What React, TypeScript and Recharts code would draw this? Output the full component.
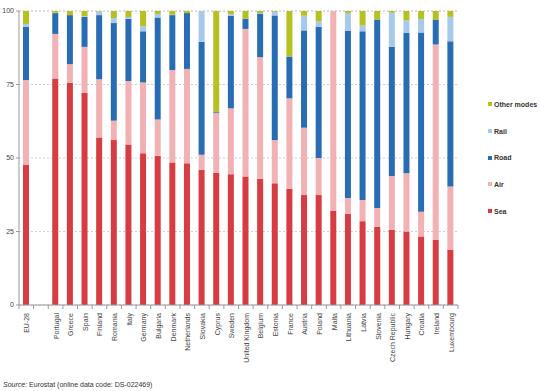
import { Bar, BarChart, CartesianGrid, XAxis, YAxis } from 'recharts';

// Share of each transport mode (%), by country
const countries = [
  'EU-28', '', 'Portugal', 'Greece', 'Spain', 'Finland', 'Romania', 'Italy', 'Germany',
  'Bulgaria', 'Denmark', 'Netherlands', 'Slovakia', 'Cyprus', 'Sweden', 'United Kingdom',
  'Belgium', 'Estonia', 'France', 'Austria', 'Poland', 'Malta', 'Lithuania', 'Latvia',
  'Slovenia', 'Czech Republic', 'Hungary', 'Croatia', 'Ireland', 'Luxembourg',
];
const sea = [47.6, null, 77.0, 75.6, 72.2, 57.0, 56.1, 54.6, 51.6, 50.8, 48.5, 48.2, 45.9, 45.0, 44.5, 43.7, 42.9, 41.4, 39.5, 37.4, 37.4, 32.1, 31.0, 28.5, 26.6, 25.6, 25.0, 23.3, 22.2, 18.8];
const air = [28.9, null, 15.2, 6.3, 15.6, 19.8, 6.6, 21.6, 24.1, 12.3, 31.4, 32.1, 5.2, 20.4, 22.4, 50.2, 41.4, 14.7, 30.8, 22.9, 12.6, 67.9, 5.4, 7.2, 6.4, 18.3, 19.8, 8.4, 66.4, 21.5];
const road = [18.1, null, 7.1, 16.7, 10.2, 21.8, 33.2, 21.2, 17.4, 34.7, 18.7, 19.0, 38.4, 0.4, 31.4, 3.5, 14.8, 42.4, 14.2, 33.1, 44.6, 0, 56.8, 57.4, 64.1, 43.9, 47.7, 61.0, 8.5, 49.4];
const rail = [1.0, null, 0.1, 0, 0.2, 1.2, 1.7, 0.6, 1.7, 1.2, 0.1, 0, 10.4, 0, 0.6, 0, 0.2, 1.2, 0, 5.0, 1.9, 0, 6.1, 2.0, 0, 11.6, 4.3, 4.6, 0, 8.3];
const other = [4.4, null, 0.6, 1.4, 1.8, 0.2, 2.4, 2.0, 5.2, 1.0, 1.3, 0.7, 0.1, 34.2, 1.1, 2.6, 0.7, 0.3, 15.5, 1.6, 3.5, 0, 0.7, 4.9, 2.9, 0.6, 3.2, 2.7, 2.9, 2.0];
const yTicks = [0, 25, 50, 75, 100];

const series = [
  { key: 'sea', name: 'Sea', color: '#d73c42' },
  { key: 'air', name: 'Air', color: '#f2b1b4' },
  { key: 'road', name: 'Road', color: '#286db4' },
  { key: 'rail', name: 'Rail', color: '#a6c9ec' },
  { key: 'other', name: 'Other modes', color: '#b5c11f' },
];

const data = countries.map((name, i) => ({
  name,
  sea: sea[i],
  air: air[i],
  road: road[i],
  rail: rail[i],
  other: other[i],
}));

const FONT = '"Liberation Sans", Arial, sans-serif';
const PLOT_W = 540 - 19 - 82;
const BAND = PLOT_W / countries.length;

function CountryTick(props: any) {
  const { x, y, payload, index } = props;
  return (
    <g>
      <line x1={x + BAND / 2} x2={x + BAND / 2} y1={y - 8} y2={y - 4} stroke="#999" />
      {index === 0 && <line x1={x - BAND / 2} x2={x - BAND / 2} y1={y - 8} y2={y - 4} stroke="#999" />}
      <text
        x={x}
        y={y}
        transform={`rotate(-90, ${x}, ${y})`}
        textAnchor="end"
        dy={3}
        fontSize={7}
        fontFamily={FONT}
        fill="#444"
      >
        {payload.value}
      </text>
    </g>
  );
}

export default function App() {
  const legendItems = [...series].reverse();
  return (
    <div style={{ position: 'absolute', left: 0, top: 0, width: 540, height: 391, background: '#fff' }}>
      <BarChart
        width={540}
        height={391}
        data={data}
        margin={{ top: 11, right: 82, left: 0, bottom: 0 }}
        barSize={6}
      >
        <CartesianGrid vertical={false} stroke="#d0d0d0" strokeDasharray="2 2" />
        <XAxis
          dataKey="name"
          height={86}
          interval={0}
          tickLine={false}
          stroke="#999"
          tick={<CountryTick />}
        />
        <YAxis
          width={19}
          domain={[0, 100]}
          ticks={yTicks}
          tickSize={3}
          stroke="#999"
          tick={{ fontSize: 7, fontFamily: FONT, fill: '#444' }}
        />
        {series.map((s) => (
          <Bar key={s.key} dataKey={s.key} name={s.name} stackId="a" fill={s.color} isAnimationActive={false} />
        ))}
      </BarChart>
      <div
        style={{
          position: 'absolute',
          left: 488,
          top: 91,
          fontFamily: FONT,
          fontSize: 7,
          fontWeight: 'bold',
          color: '#333',
        }}
      >
        {legendItems.map((s) => (
          <div key={s.key} style={{ display: 'flex', alignItems: 'center', height: 26.7 }}>
            <span style={{ width: 4, height: 4, background: s.color, marginRight: 2 }} />
            {s.name}
          </div>
        ))}
      </div>
      <div
        style={{
          position: 'absolute',
          left: 3,
          top: 381,
          fontFamily: FONT,
          fontSize: 7,
          color: '#333',
        }}
      >
        <i>Source:</i> Eurostat (online data code: DS-022469)
      </div>
    </div>
  );
}
